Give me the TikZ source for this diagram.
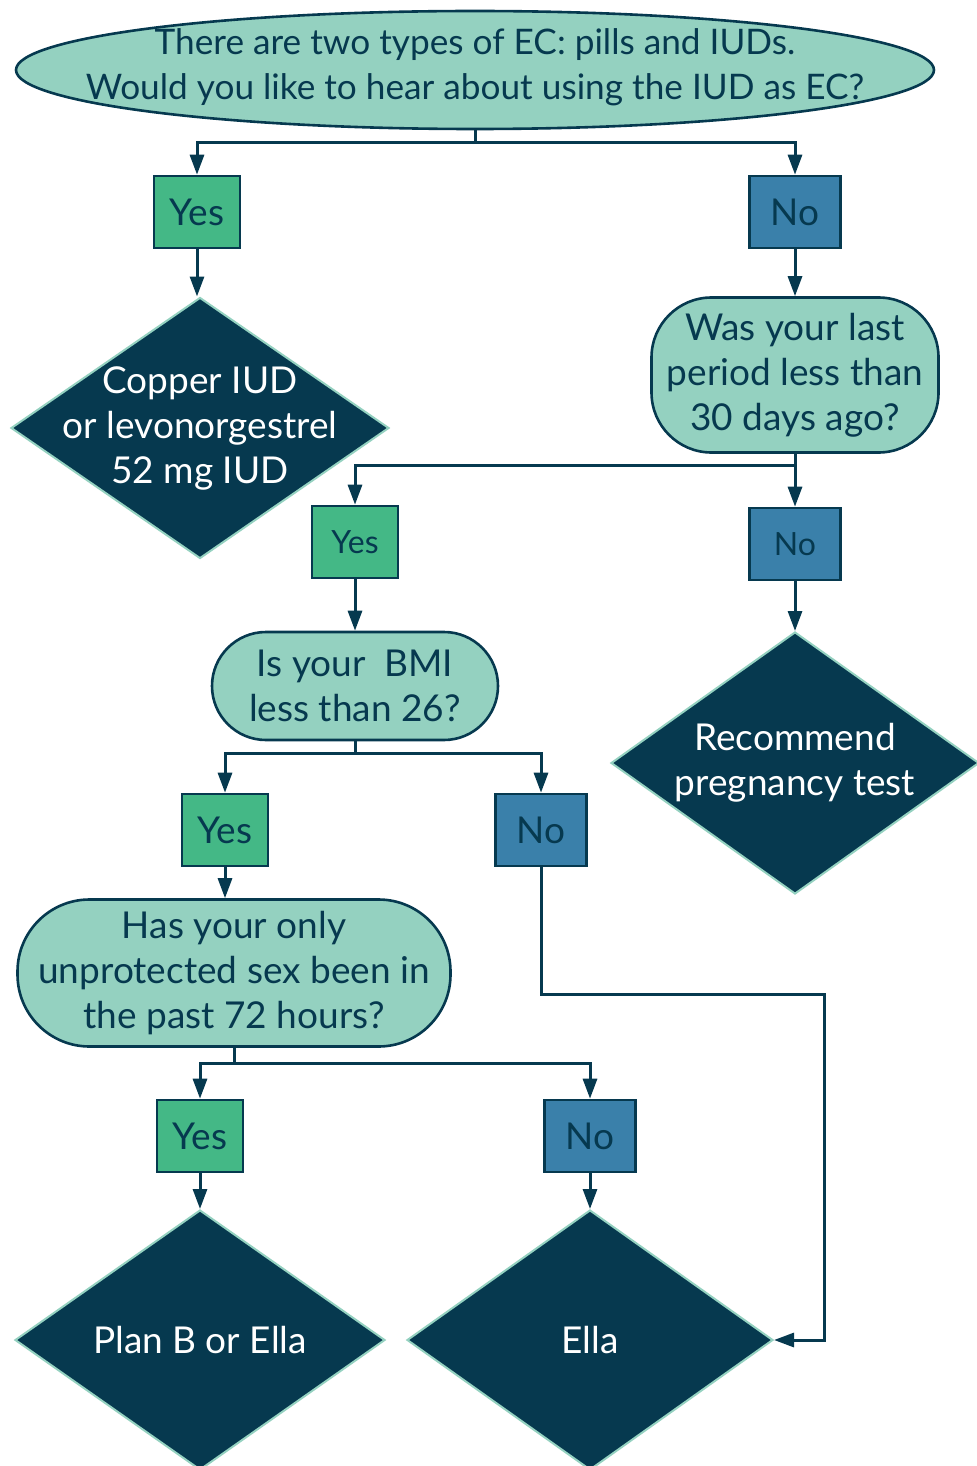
\documentclass[tikz,border=0pt]{standalone}
\usepackage{fontspec}
\setmainfont{Lato}
\usepackage{xcolor}
\usetikzlibrary{arrows.meta, shapes.geometric, positioning}

\definecolor{ecnavy}{HTML}{06394F}
\definecolor{ecteal}{HTML}{94D1C0}
\definecolor{ecgreen}{HTML}{44B886}
\definecolor{ecblue}{HTML}{3A80AA}

\begin{document}
\begin{tikzpicture}[node distance=2cm, on grid,
    base/.style={font=\fontsize{18.5}{22.5}\selectfont, align=center, text=ecnavy},
    small/.style={font=\fontsize{16}{19}\selectfont},
    topq/.style={ellipse, base, font=\fontsize{17.6}{22.5}\selectfont, draw=ecnavy, fill=ecteal, line width=1.3pt, inner xsep=-80pt, inner ysep=-30pt},
    query/.style={rectangle, base, rounded corners=30pt, draw=ecnavy, fill=ecteal, line width=1.3pt, inner sep=0pt},
    yesbox/.style={rectangle, base, draw=ecnavy, fill=ecgreen, line width=1.3pt, minimum width=43pt, minimum height=36pt, inner sep=0pt},
    nobox/.style={yesbox, fill=ecblue, minimum width=45.5pt},
    answer/.style={diamond, base, text=white, draw=ecteal, fill=ecnavy, line width=1pt, inner sep=-30pt},
    flow/.style={-{Triangle[length=10pt,width=7pt]}, draw=ecnavy, line width=1.5pt}]

    \useasboundingbox (0,0) rectangle (488pt,-733pt);

    \node[topq, minimum width=459pt, minimum height=59pt] (ask) at (237.5pt,-35pt) {There are two types of EC: pills and IUDs.\\Would you like to hear about using the IUD as EC?\vspace{3pt}};
    \node[yesbox, below left=71pt and 139pt of ask] (yesIUD) {Yes};
    \node[nobox, below right=71pt and 160pt of ask] (noIUD) {No};
    \node[answer, minimum width=189pt, minimum height=130.5pt, below right=108pt and 1.5pt of yesIUD] (iud) {Copper IUD\\or levonorgestrel\\52 mg IUD};
    \node[query, minimum width=143.5pt, minimum height=77.5pt, below=81.5pt of noIUD] (period) {Was your last\\period less than\\30 days ago?};

    \node[yesbox, small, below left=83.5pt and 220pt of period] (yesPeriod) {Yes};
    \node[nobox, small, below=84.5pt of period] (noPeriod) {No};
    \node[query, rounded corners=27pt, minimum width=143pt, minimum height=54pt, below=72pt of yesPeriod] (bmi) {Is your~ BMI\\less than 26?};
    \node[answer, minimum width=184pt, minimum height=131pt, below=109.5pt of noPeriod] (test) {Recommend\\pregnancy test};

    \node[yesbox, below left=72pt and 65pt of bmi] (yesBMI) {Yes};
    \node[nobox, below right=72pt and 93pt of bmi] (noBMI) {No};
    \node[query, rounded corners=36pt, minimum width=216.5pt, minimum height=73.5pt, below right=71.5pt and 4.5pt of yesBMI] (sex) {Has your only\\unprotected sex been in\\the past 72 hours?};

    \node[yesbox, below left=81.5pt and 17pt of sex] (yesSex) {Yes};
    \node[nobox, below right=81.5pt and 178pt of sex] (noSex) {No};
    \node[answer, minimum width=185pt, minimum height=130pt, below=102pt of yesSex] (planb) {Plan B or Ella};
    \node[answer, minimum width=183pt, minimum height=130pt, below=102pt of noSex] (ella) {Ella};

    \draw[flow] (ask.south) -- ++(0,-6pt) -| (yesIUD.north);
    \draw[flow] (ask.south) -- ++(0,-6pt) -| (noIUD.north);
    \draw[flow] (yesIUD.south) -- (yesIUD.south |- iud.north);
    \draw[flow] (noIUD.south) -- (period.north);
    \draw[flow] (period.south) -- ++(0,-6pt) -| (yesPeriod.north);
    \draw[flow] (period.south) -- (noPeriod.north);
    \draw[flow] (yesPeriod.south) -- (bmi.north);
    \draw[flow] (noPeriod.south) -- (test.north);
    \draw[flow] (bmi.south) -- ++(0,-6pt) -| (yesBMI.north);
    \draw[flow] (bmi.south) -- ++(0,-6pt) -| (noBMI.north);
    \draw[flow] (yesBMI.south) -- (yesBMI.south |- sex.north);
    \draw[flow] (sex.south) -- ++(0,-8pt) -| (yesSex.north);
    \draw[flow] (sex.south) -- ++(0,-8pt) -| (noSex.north);
    \draw[flow] (yesSex.south) -- (planb.north);
    \draw[flow] (noSex.south) -- (ella.north);
    \draw[flow] (noBMI.south) -- ++(0,-63.5pt) -| ([xshift=25pt]ella.east) -- (ella.east);

\end{tikzpicture}
\end{document}
